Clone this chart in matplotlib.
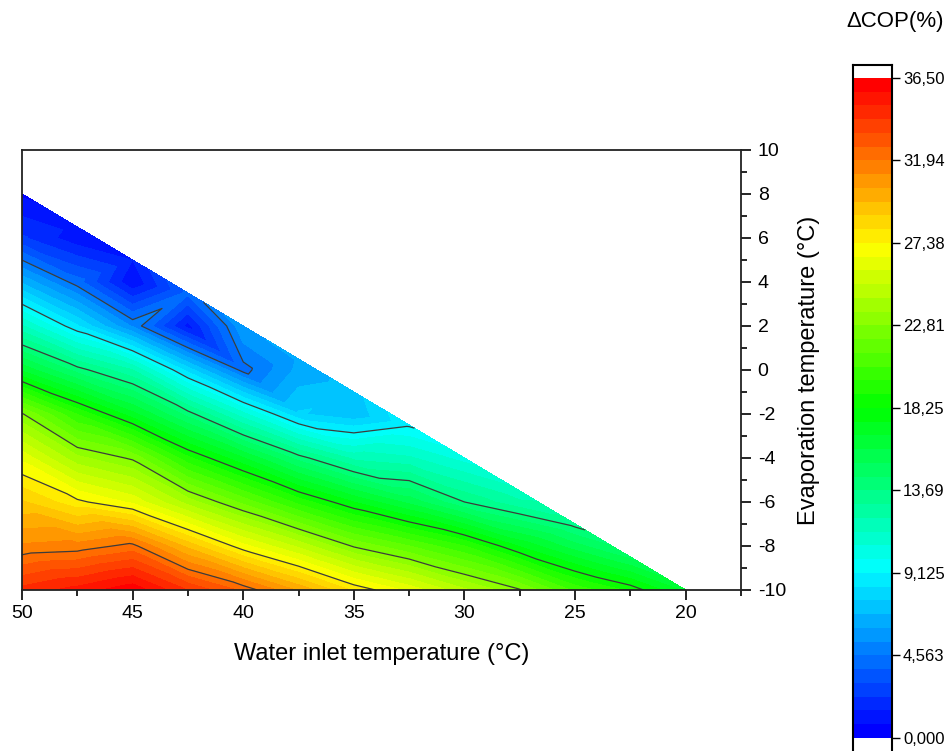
import numpy as np
import matplotlib
matplotlib.use("Agg")
import matplotlib.pyplot as plt
import matplotlib.tri as mtri
from matplotlib.colors import LinearSegmentedColormap

plt.rcParams["font.family"] = ["Liberation Sans", "DejaVu Sans"]
plt.rcParams["axes.unicode_minus"] = False

# water inlet temperature columns (°C) and the evaporation grid (°C)
tw = [50, 47.5, 45, 42.5, 40, 37.5, 35, 32.5, 30, 27.5, 25, 22.5, 20]
te_grid = [-10, -8, -6, -4, -2, 0, 2, 4, 6]
# highest evaporation temperature tested for each water temperature
te_top = [8, 6.5, 5, 3.5, 2, 0.5, -1, -2.5, -4, -5.5, -7, -8.5, -10]

# ΔCOP (%) per column: grid points below te_top, last value at te_top
dcop = [
    [34.5, 31.3, 29.0, 26.4, 22.9, 16.6, 11.5, 6.7, 2.4, 0.6],
    [35.3, 31.49, 27.6, 23.8, 19.7, 14.09, 8.46, 4.16, 1.0, 1.2],
    [36.3, 32.2, 26.44, 22.65, 17.0, 12.17, 5.2, 0.8, 1.5],
    [34.2, 29.4, 24.0, 19.2, 14.1, 8.03, 1.2, 4.0],
    [32.5, 26.87, 21.8, 16.78, 10.88, 4.24, 6.0],
    [30.3, 24.9, 19.5, 14.1, 7.7, 6.3, 6.2],
    [28.0, 22.7, 17.49, 11.95, 7.0, 7.3],
    [26.4, 21.3, 15.73, 11.53, 9.0],
    [24.5, 19.77, 13.69, 10.3],
    [22.9, 17.4, 12.3, 11.6],
    [20.3, 15.5, 13.4],
    [18.8, 15.0],
    [16.5],
]

zmin, zmax, nlev = 0.0, 36.5, 48
cbar_ticks = [0.0, 4.5625, 9.125, 13.6875, 18.25, 22.8125, 27.375, 31.9375, 36.5]
cbar_text = ["0,000", "4,563", "9,125", "13,69", "18,25", "22,81", "27,38", "31,94", "36,50"]

# points column by column
xs, ys, zs, cols = [], [], [], []
for x, top, col in zip(tw, te_top, dcop):
    below = [t for t in te_grid if t < top]
    idx = []
    for t, z in zip(below + [top], col):
        idx.append(len(xs))
        xs.append(x); ys.append(t); zs.append(z)
    cols.append(idx)

# stitch neighbouring columns into triangles (diagonals run down to the right)
triangles = []
for a, b in zip(cols[:-1], cols[1:]):
    i = j = 0
    while i < len(a) - 1 or j < len(b) - 1:
        if j == len(b) - 1 or (i < len(a) - 1 and ys[a[i + 1]] <= ys[b[j + 1]]):
            triangles.append([a[i], b[j], a[i + 1]]); i += 1
        else:
            triangles.append([a[i], b[j], b[j + 1]]); j += 1
tri = mtri.Triangulation(xs, ys, triangles)

rainbow = LinearSegmentedColormap.from_list(
    "rb", ["#0000ff", "#00ffff", "#00ff00", "#ffff00", "#ff0000"])
levels = np.linspace(zmin, zmax, nlev + 1)
colors = [rainbow(i / (nlev - 1)) for i in range(nlev)]

fig = plt.figure(figsize=(9.48, 7.51), dpi=100)
ax = fig.add_axes([22 / 948, 1 - 590 / 751, 719 / 948, 440 / 751])

ax.tricontourf(tri, zs, levels=levels, colors=colors)
ax.tricontourf(tri, zs, levels=levels, colors=colors)
ax.tricontour(tri, zs, levels=cbar_ticks[1:-1], colors="#3c3c3c", linewidths=0.9)

ax.set_xlim(50, 17.5)
ax.set_ylim(-10, 10)
ax.set_xticks([50, 45, 40, 35, 30, 25, 20])
ax.set_xticks([47.5, 42.5, 37.5, 32.5, 27.5, 22.5, 17.5], minor=True)
ax.set_yticks(range(-10, 11, 2))
ax.set_yticks(range(-9, 10, 2), minor=True)
ax.yaxis.tick_right()
ax.yaxis.set_label_position("right")
ax.tick_params(which="both", direction="out", width=1.2, labelsize=14,
               top=False, left=False, right=True, bottom=True)
ax.tick_params(which="major", length=7)
ax.tick_params(which="minor", length=4)
ax.tick_params(axis="x", pad=4)
ax.tick_params(axis="y", pad=5)
for s in ax.spines.values():
    s.set_linewidth(1.3)
    s.set_color("#222222")
ax.set_xlabel("Water inlet temperature (°C)", fontsize=17, labelpad=15)
ax.set_ylabel("Evaporation temperature (°C)", fontsize=17, labelpad=9)

# colour scale drawn as stacked bands
cax = fig.add_axes([853 / 948, 1 - 755 / 751, 39 / 948, 690 / 751])
step = levels[1] - levels[0]
cax.bar(0.5, step, width=1, bottom=levels[:-1], color=colors, linewidth=0)
cax.set_xlim(0, 1)
cax.set_ylim(-17 * 36.5 / 660, 36.5 + 13 * 36.5 / 660)
cax.set_xticks([])
cax.yaxis.tick_right()
cax.set_yticks(cbar_ticks)
cax.set_yticklabels(cbar_text)
cax.tick_params(axis="y", direction="out", length=6, width=1, labelsize=12, pad=2)
for s in cax.spines.values():
    s.set_linewidth(1.5)
fig.text(895 / 948, 1 - 22 / 751, "ΔCOP(%)", fontsize=16, ha="center", va="center")

fig.savefig("out.png", dpi=100)
